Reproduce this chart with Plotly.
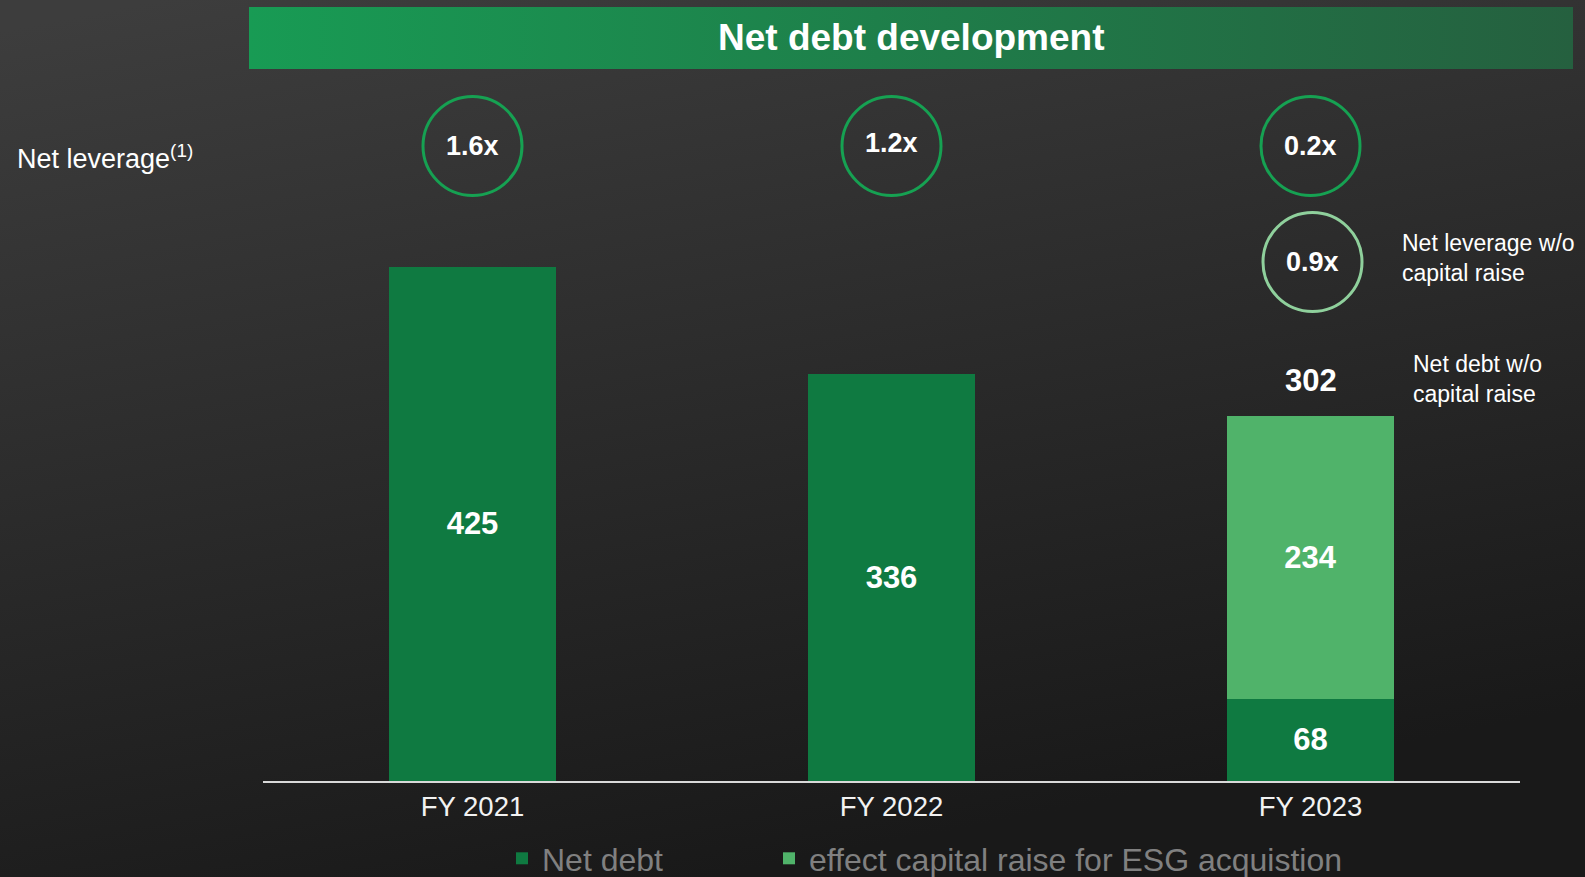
import base64
import plotly.graph_objects as go

# ---- data -------------------------------------------------------------
years = ["FY 2021", "FY 2022", "FY 2023"]
net_debt = [425, 336, 68]
capital_raise_effect = [0, 0, 234]
net_leverage = [1.6, 1.2, 0.2]
net_leverage_wo_raise = 0.9

W, H = 1585, 877
FONT = "Liberation Sans, Arial, sans-serif"
DARK_GREEN = "#0f7a41"
LIGHT_GREEN = "#50b36a"
RING_GREEN = "#16a152"
RING_LIGHT = "#8fd09c"

PX_PER_UNIT = 1.21          # vertical scale of the bars
BASE_PX = 781               # baseline (pixel row from top)


def fy(py):
    """pixel row -> paper fraction"""
    return 1 - py / H


def fx(px):
    return px / W


def svg_uri(svg):
    return "data:image/svg+xml;base64," + base64.b64encode(svg.encode()).decode()


bg_svg = (
    '<svg xmlns="http://www.w3.org/2000/svg" width="1585" height="877" '
    'viewBox="0 0 1585 877" preserveAspectRatio="none">'
    '<defs><linearGradient id="g" x1="0.1" y1="0" x2="0.45" y2="1">'
    '<stop offset="0" stop-color="#3d3d3d"/>'
    '<stop offset="1" stop-color="#191919"/></linearGradient></defs>'
    '<rect width="1585" height="877" fill="url(#g)"/></svg>'
)
band_svg = (
    '<svg xmlns="http://www.w3.org/2000/svg" width="1324" height="62" '
    'viewBox="0 0 1324 62" preserveAspectRatio="none">'
    '<defs><linearGradient id="b" x1="0" y1="0" x2="1" y2="0">'
    '<stop offset="0" stop-color="#189b54"/>'
    '<stop offset="1" stop-color="#25603f"/></linearGradient></defs>'
    '<rect width="1324" height="62" fill="url(#b)"/></svg>'
)

fig = go.Figure()

bar_text_font = dict(family=FONT, size=31, color="white", weight="bold")
fig.add_trace(go.Bar(
    name="Net debt", legend="legend",
    x=years, y=net_debt,
    marker=dict(color=DARK_GREEN, line=dict(width=0)),
    text=[str(v) if v else "" for v in net_debt],
    textposition="inside", insidetextanchor="middle", textangle=0,
    textfont=bar_text_font, width=0.4, hoverinfo="skip",
))
fig.add_trace(go.Bar(
    name="effect capital raise for ESG acquistion", legend="legend2",
    x=years, y=capital_raise_effect,
    marker=dict(color=LIGHT_GREEN, line=dict(width=0)),
    text=[str(v) if v else "" for v in capital_raise_effect],
    textposition="inside", insidetextanchor="middle", textangle=0,
    textfont=bar_text_font, width=0.4, hoverinfo="skip",
))

shapes = []
annotations = []

# leverage rings above each year
RING_R = 49.5
for i, lev in enumerate(net_leverage):
    cy = fy(146)
    shapes.append(dict(
        type="circle", xref="x", yref="paper",
        xsizemode="pixel", ysizemode="pixel",
        xanchor=i, yanchor=cy,
        x0=-RING_R, x1=RING_R, y0=-RING_R, y1=RING_R,
        line=dict(color=RING_GREEN, width=3),
    ))
    annotations.append(dict(
        x=i, xref="x", y=cy, yref="paper", yshift=3 if i == 1 else 0,
        xanchor="center", yanchor="middle",
        text=f"<b>{lev:.1f}x</b>", showarrow=False,
        font=dict(family=FONT, size=27, color="white"),
    ))

# leverage without the capital raise (FY 2023)
cy2 = fy(262)
shapes.append(dict(
    type="circle", xref="x", yref="paper",
    xsizemode="pixel", ysizemode="pixel",
    xanchor=2, yanchor=cy2,
    x0=-RING_R + 2, x1=RING_R + 2, y0=-RING_R, y1=RING_R,
    line=dict(color=RING_LIGHT, width=3),
))
annotations.append(dict(
    x=2, xref="x", xshift=2, y=cy2, yref="paper",
    xanchor="center", yanchor="middle",
    text=f"<b>{net_leverage_wo_raise:.1f}x</b>", showarrow=False,
    font=dict(family=FONT, size=27, color="white"),
))

# total of the stacked FY 2023 bar
total_2023 = net_debt[2] + capital_raise_effect[2]
annotations.append(dict(
    x=2, xref="x", y=total_2023, yref="y", yshift=35,
    xanchor="center", yanchor="middle",
    text=f"<b>{total_2023}</b>", showarrow=False,
    font=dict(family=FONT, size=31, color="white"),
))

# side notes
annotations += [
    dict(x=fx(1400), xref="paper", y=fy(258), yref="paper",
         xanchor="left", yanchor="middle", align="left", showarrow=False,
         text="Net leverage w/o<br>capital raise",
         font=dict(family=FONT, size=23, color="white")),
    dict(x=fx(1411), xref="paper", y=fy(379), yref="paper",
         xanchor="left", yanchor="middle", align="left", showarrow=False,
         text="Net debt w/o<br>capital raise",
         font=dict(family=FONT, size=23, color="white")),
    dict(x=fx(15), xref="paper", y=fy(157), yref="paper",
         xanchor="left", yanchor="middle", showarrow=False,
         text="Net leverage<sup>(1)</sup>",
         font=dict(family=FONT, size=27, color="white")),
    dict(x=fx(911), xref="paper", y=fy(38), yref="paper",
         xanchor="center", yanchor="middle", showarrow=False,
         text="<b>Net debt development</b>",
         font=dict(family=FONT, size=37, color="white")),
]

legend_common = dict(
    orientation="h", xanchor="left", y=-9 / H, yanchor="bottom",
    font=dict(family=FONT, size=32, color="#808080"),
    bgcolor="rgba(0,0,0,0)", itemclick=False, itemdoubleclick=False,
)

fig.update_layout(
    width=W, height=H,
    margin=dict(l=0, r=0, t=0, b=0, autoexpand=False),
    paper_bgcolor="#262626",
    plot_bgcolor="rgba(0,0,0,0)",
    barmode="stack",
    showlegend=True,
    legend=dict(x=fx(502), **legend_common),
    legend2=dict(x=fx(769), **legend_common),
    xaxis=dict(
        domain=[fx(263), fx(1520)], range=[-0.5, 2.5],
        type="category", categoryorder="array", categoryarray=years,
        showline=True, linecolor="#d9d9d9", linewidth=2,
        ticks="", showgrid=False, zeroline=False,
        tickfont=dict(family=FONT, size=27.5, color="#f2f2f2"),
        fixedrange=True,
    ),
    yaxis=dict(
        domain=[fy(BASE_PX), 1.0], range=[0, BASE_PX / PX_PER_UNIT],
        visible=False, fixedrange=True,
    ),
    shapes=shapes,
    annotations=annotations,
    images=[
        dict(source=svg_uri(bg_svg), xref="paper", yref="paper",
             x=0, y=1, sizex=1, sizey=1, xanchor="left", yanchor="top",
             sizing="stretch", layer="below"),
        dict(source=svg_uri(band_svg), xref="paper", yref="paper",
             x=fx(249), y=fy(7), sizex=fx(1573) - fx(249), sizey=62 / H,
             xanchor="left", yanchor="top", sizing="stretch", layer="below"),
    ],
    font=dict(family=FONT),
    uniformtext=dict(mode="show", minsize=10),
)

fig.write_html("out.html", config={"displayModeBar": False})
